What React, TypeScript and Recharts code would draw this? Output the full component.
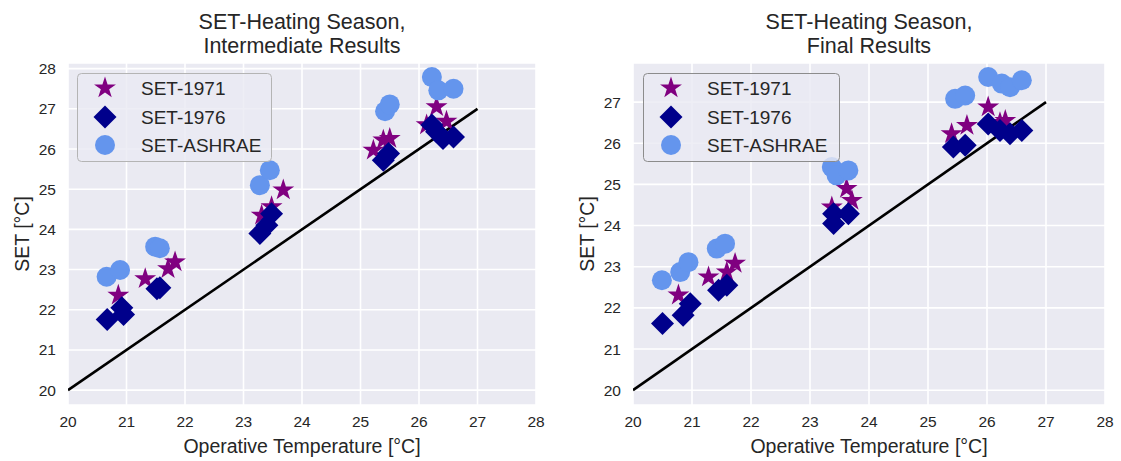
import React from 'react';
import { ScatterChart, Scatter, XAxis, YAxis, CartesianGrid, Legend } from 'recharts';

type Pt = [number, number];

// Axis ticks
const xTicks = [20, 21, 22, 23, 24, 25, 26, 27, 28];
const yTicksInter = [20, 21, 22, 23, 24, 25, 26, 27, 28];
const yTicksFinal = [20, 21, 22, 23, 24, 25, 26, 27];

// Intermediate results: [operative temperature, SET]
const inter1971: Pt[] = [
  [20.86, 22.36], [21.32, 22.77], [21.71, 23.02], [21.83, 23.19],
  [23.31, 24.35], [23.48, 24.56], [23.68, 24.98],
  [25.22, 25.97], [25.39, 26.22], [25.5, 26.26],
  [26.13, 26.6], [26.3, 27.05], [26.47, 26.69],
];
const inter1976: Pt[] = [
  [20.67, 21.76], [20.92, 22.05], [20.95, 21.88], [21.52, 22.52], [21.57, 22.55],
  [23.28, 23.9], [23.4, 24.1], [23.48, 24.39],
  [25.39, 25.72], [25.48, 25.89],
  [26.22, 26.6], [26.3, 26.43], [26.41, 26.26], [26.59, 26.3],
];
const interAshrae: Pt[] = [
  [20.66, 22.82], [20.89, 22.99], [21.49, 23.57], [21.57, 23.53],
  [23.28, 25.1], [23.45, 25.47],
  [25.42, 26.94], [25.5, 27.11],
  [26.22, 27.79], [26.33, 27.46], [26.59, 27.5],
];

// Final results: [operative temperature, SET]
const final1971: Pt[] = [
  [20.77, 22.31], [21.28, 22.75], [21.59, 22.87], [21.73, 23.08],
  [23.37, 24.45], [23.62, 24.9], [23.71, 24.61],
  [25.4, 26.23], [25.66, 26.43],
  [26.02, 26.88], [26.22, 26.5], [26.31, 26.55],
];
const final1976: Pt[] = [
  [20.5, 21.62], [20.85, 21.82], [20.97, 22.1], [21.45, 22.43], [21.59, 22.55],
  [23.4, 24.05], [23.4, 24.29], [23.65, 24.29],
  [25.43, 25.91], [25.63, 25.95],
  [26.02, 26.47], [26.22, 26.31], [26.39, 26.23], [26.59, 26.31],
];
const finalAshrae: Pt[] = [
  [20.49, 22.67], [20.8, 22.87], [20.94, 23.11], [21.42, 23.44], [21.56, 23.56],
  [23.37, 25.42], [23.45, 25.22], [23.65, 25.34],
  [25.46, 27.08], [25.63, 27.16],
  [26.02, 27.61], [26.25, 27.45], [26.39, 27.36], [26.59, 27.53],
];

// 1:1 reference line
const identityLine: Pt[] = [[20, 20], [27, 27]];

const FONT = '"Liberation Sans", Arial, sans-serif';
const TEXT = '#262626';
const C1971 = '#800080';
const C1976 = '#00008B';
const CASHRAE = '#6495ED';

const toObjs = (pts: Pt[]) => pts.map(([x, y]) => ({ x, y }));

function starPath(cx: number, cy: number, R: number, r: number) {
  let d = '';
  for (let i = 0; i < 10; i++) {
    const rad = i % 2 === 0 ? R : r;
    const a = -Math.PI / 2 + (i * Math.PI) / 5;
    d += `${i === 0 ? 'M' : 'L'}${cx + rad * Math.cos(a)},${cy + rad * Math.sin(a)}`;
  }
  return d + 'Z';
}

const StarShape = (p: any) => <path d={starPath(p.cx, p.cy, 11.5, 4.4)} fill={C1971} />;
const DiamondShape = (p: any) => {
  const h = 11.5;
  return (
    <path
      d={`M${p.cx},${p.cy - h}L${p.cx + h},${p.cy}L${p.cx},${p.cy + h}L${p.cx - h},${p.cy}Z`}
      fill={C1976}
    />
  );
};
const CircleShape = (p: any) => <circle cx={p.cx} cy={p.cy} r={10} fill={CASHRAE} />;
const EmptyShape = () => <g />;

const legendRows = [
  { name: 'SET-1971', kind: 'star' },
  { name: 'SET-1976', kind: 'diamond' },
  { name: 'SET-ASHRAE', kind: 'circle' },
];

function LegendBox({ w, h, edge }: { w: number; h: number; edge: string }) {
  const rowsY = [15, 44, 72];
  return (
    <svg width={w} height={h} style={{ display: 'block' }}>
      <rect x={0.5} y={0.5} width={w - 1} height={h - 1} rx={4} fill="rgba(234,234,242,0.8)" stroke={edge} strokeWidth={1} />
      {legendRows.map((row, i) => {
        const cy = rowsY[i];
        const cx = 28;
        let marker;
        if (row.kind === 'star') marker = <StarShape cx={cx} cy={cy} />;
        else if (row.kind === 'diamond') marker = <DiamondShape cx={cx} cy={cy} />;
        else marker = <CircleShape cx={cx} cy={cy} />;
        return (
          <g key={row.name}>
            {marker}
            <text x={64} y={cy + 7} fontSize={19} fontFamily={FONT} fill={TEXT}>
              {row.name}
            </text>
          </g>
        );
      })}
    </svg>
  );
}

function YLabel(props: any) {
  const vb = props.viewBox || { x: 0, y: 0, height: 0 };
  const x = vb.x + 28.5;
  const y = vb.y + vb.height / 2;
  return (
    <text
      x={x}
      y={y}
      transform={`rotate(-90, ${x}, ${y})`}
      textAnchor="middle"
      fontSize={19.5}
      fontFamily={FONT}
      fill={TEXT}
    >
      SET [°C]
    </text>
  );
}

type PanelProps = {
  left: number;
  width: number;
  plotWidth: number;
  titleLines: string[];
  yDomain: [number, number];
  yTicks: number[];
  s1971: Pt[];
  s1976: Pt[];
  sAshrae: Pt[];
  legendLeft: number;
  legendWidth: number;
  legendEdge: string;
};

function Panel(props: PanelProps) {
  const { left, width, plotWidth, titleLines, yDomain, yTicks, s1971, s1976, sAshrae, legendLeft, legendWidth, legendEdge } = props;
  const axisW = 68;
  const plotCenter = axisW + plotWidth / 2;
  return (
    <div style={{ position: 'absolute', left, top: 0, width, height: 461 }}>
      <div
        style={{
          position: 'absolute',
          left: plotCenter - 200,
          top: 9.5,
          width: 400,
          textAlign: 'center',
          fontFamily: FONT,
          fontSize: 21.5,
          lineHeight: '24px',
          color: TEXT,
          whiteSpace: 'nowrap',
        }}
      >
        {titleLines.map((t) => (
          <div key={t}>{t}</div>
        ))}
      </div>
      <ScatterChart
        width={width}
        height={461}
        margin={{ top: 63, right: width - axisW - plotWidth, bottom: 0, left: 0 }}
        style={{ position: 'absolute', left: 0, top: 0 }}
      >
        <CartesianGrid fill="#EAEAF2" stroke="#ffffff" strokeWidth={1.6} />
        <XAxis
          type="number"
          dataKey="x"
          domain={[20, 28]}
          ticks={xTicks}
          allowDataOverflow
          axisLine={false}
          tickLine={false}
          tickSize={0}
          tickMargin={11}
          height={56}
          tick={{ fontSize: 15.5, fill: TEXT, fontFamily: FONT }}
          label={{
            value: 'Operative Temperature [°C]',
            position: 'insideBottom',
            offset: 8,
            fontSize: 19.5,
            fill: TEXT,
            fontFamily: FONT,
          }}
        />
        <YAxis
          type="number"
          dataKey="y"
          domain={yDomain}
          ticks={yTicks}
          allowDataOverflow
          axisLine={false}
          tickLine={false}
          tickSize={0}
          tickMargin={12}
          width={axisW}
          tick={{ fontSize: 15.5, fill: TEXT, fontFamily: FONT }}
          label={<YLabel />}
        />
        <Scatter
          data={toObjs(identityLine)}
          line={{ stroke: '#000000', strokeWidth: 2.6 }}
          shape={EmptyShape}
          legendType="none"
          isAnimationActive={false}
        />
        <Scatter name="SET-1971" data={toObjs(s1971)} shape={StarShape} fill={C1971} isAnimationActive={false} />
        <Scatter name="SET-1976" data={toObjs(s1976)} shape={DiamondShape} fill={C1976} isAnimationActive={false} />
        <Scatter name="SET-ASHRAE" data={toObjs(sAshrae)} shape={CircleShape} fill={CASHRAE} isAnimationActive={false} />
        <Legend
          layout="vertical"
          align="center"
          verticalAlign="middle"
          wrapperStyle={{ left: legendLeft, top: 73, width: legendWidth, height: 89 }}
          content={() => <LegendBox w={legendWidth} h={89} edge={legendEdge} />}
        />
      </ScatterChart>
    </div>
  );
}

export default function App() {
  return (
    <div style={{ position: 'absolute', left: 0, top: 0, width: 1121, height: 461, background: '#ffffff' }}>
      <Panel
        left={0}
        width={560}
        plotWidth={468}
        titleLines={['SET-Heating Season,', 'Intermediate Results']}
        yDomain={[19.63, 28.14]}
        yTicks={yTicksInter}
        s1971={inter1971}
        s1976={inter1976}
        sAshrae={interAshrae}
        legendLeft={77}
        legendWidth={195}
        legendEdge="#b4b4b4"
      />
      <Panel
        left={565}
        width={556}
        plotWidth={472}
        titleLines={['SET-Heating Season,', 'Final Results']}
        yDomain={[19.64, 27.95]}
        yTicks={yTicksFinal}
        s1971={final1971}
        s1976={final1976}
        sAshrae={finalAshrae}
        legendLeft={78}
        legendWidth={197}
        legendEdge="#8c8c8c"
      />
    </div>
  );
}
